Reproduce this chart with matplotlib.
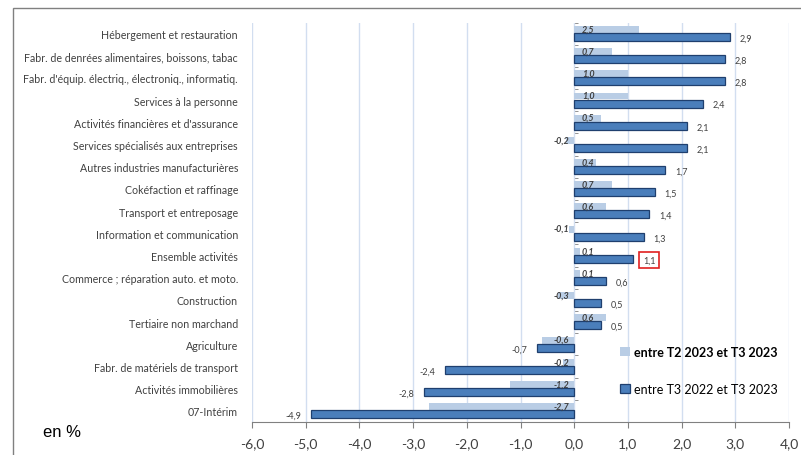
import matplotlib
matplotlib.use("Agg")
import matplotlib.pyplot as plt
import numpy as np
from matplotlib.patches import Rectangle

plt.rcParams['font.family'] = ['Lato', 'DejaVu Sans']

# données
secteurs = ["Hébergement et restauration",
            "Fabr. de denrées alimentaires, boissons, tabac",
            "Fabr. d'équip. électriq., électroniq., informatiq.",
            "Services à la personne",
            "Activités financières et d'assurance",
            "Services spécialisés aux entreprises",
            "Autres industries manufacturières",
            "Cokéfaction et raffinage",
            "Transport et entreposage",
            "Information et communication",
            "Ensemble activités",
            "Commerce ; réparation auto. et moto.",
            "Construction",
            "Tertiaire non marchand",
            "Agriculture",
            "Fabr. de matériels de transport",
            "Activités immobilières",
            "07-Intérim"]
trim = [1.2, 0.7, 1.0, 1.0, 0.5, -0.15, 0.4, 0.7, 0.6, -0.1, 0.1, 0.1, -0.3, 0.6, -0.6, -0.2, -1.2, -2.7]
trim_labels = ["2,5", "0,7", "1,0", "1,0", "0,5", "-0,2", "0,4", "0,7", "0,6", "-0,1",
               "0,1", "0,1", "-0,3", "0,6", "-0,6", "-0,2", "-1,2", "-2,7"]
annee = [2.9, 2.8, 2.8, 2.4, 2.1, 2.1, 1.7, 1.5, 1.4, 1.3, 1.1, 0.6, 0.5, 0.5, -0.7, -2.4, -2.8, -4.9]
leg_trim = "entre T2 2023 et T3 2023"
leg_annee = "entre T3 2022 et T3 2023"
xticks = np.arange(-6, 5, 1)

light = '#b9cde5'
dark = '#4a7ebb'
txt = '#404040'

fig = plt.figure(figsize=(8.01, 4.56), dpi=100)
ax = fig.add_axes([252/801, 1-423/456, (789-252)/801, (423-23.5)/456])

y = np.arange(len(secteurs))
ax.barh(y - 0.19, trim, height=0.31, color=light, edgecolor='none', zorder=3, label=leg_trim)
ax.barh(y + 0.15, annee, height=0.36, color=dark, edgecolor='#1f3f6e', linewidth=0.9,
        zorder=3, label=leg_annee)

ax.set_xlim(-6, 4)
ax.set_ylim(len(secteurs) - 0.5, -0.5)
ax.set_xticks(xticks)
ax.set_xticklabels([("%.1f" % v).replace('.', ',') for v in xticks], fontsize=10, color=txt)
ax.set_yticks(y)
ax.set_yticklabels(secteurs, fontsize=7.7, color=txt)
ax.tick_params(axis='y', length=0, pad=10)
ax.tick_params(axis='x', length=4, color='#808080', pad=7)
ax.grid(axis='x', color='#d2def0', linewidth=1, zorder=0)
for s in ['top', 'right', 'left']:
    ax.spines[s].set_visible(False)
ax.spines['bottom'].set_color('#808080')

# axe vertical à zéro
sec = ax.secondary_yaxis(0.6)
sec.set_yticks([])
sec.set_yticks(np.arange(len(secteurs) + 1) - 0.5, minor=True)
sec.tick_params(which='minor', length=3, color='#808080', direction='out')
sec.spines['right'].set_visible(False)
sec.spines['left'].set_color('#808080')

# étiquettes
for i, v in enumerate(annee):
    if v >= 0:
        t = ax.text(v + 0.18, i + 0.2, ("%.1f" % v).replace('.', ','), fontsize=6.5,
                    color=txt, va='center', ha='left', zorder=4)
    else:
        t = ax.text(v - 0.18, i + 0.2, ("%.1f" % v).replace('.', ','), fontsize=6.5,
                    color=txt, va='center', ha='right', zorder=4)
    if secteurs[i] == "Ensemble activités":
        t.set_bbox(dict(boxstyle='square,pad=0.4', facecolor='white', edgecolor='#e02020', linewidth=1.2))

for i, v in enumerate(trim):
    if v >= 0:
        ax.text(0.14, i - 0.22, trim_labels[i], fontsize=6.5, color=txt, style='italic',
                fontweight='bold', va='center', ha='left', zorder=4)
    else:
        ax.text(-0.1, i - 0.22, trim_labels[i], fontsize=6.5, color=txt, style='italic',
                fontweight='bold', va='center', ha='right', zorder=4)

leg = ax.legend(loc='lower right', bbox_to_anchor=(1.0, 0.04), frameon=False, fontsize=9,
                handlelength=0.8, handleheight=0.8, handletextpad=0.3, labelspacing=2.0)
leg.get_texts()[0].set_fontweight('bold')

fig.text(43/801, 1-433/456, "en %", fontsize=12, family='Liberation Sans', va='center', ha='left')
fig.patches.append(Rectangle((13/801, -0.05), 1.0, 1.05 - 9/456, transform=fig.transFigure,
                             fill=False, edgecolor='#808080', linewidth=1))

fig.savefig("out.png", dpi=100)
